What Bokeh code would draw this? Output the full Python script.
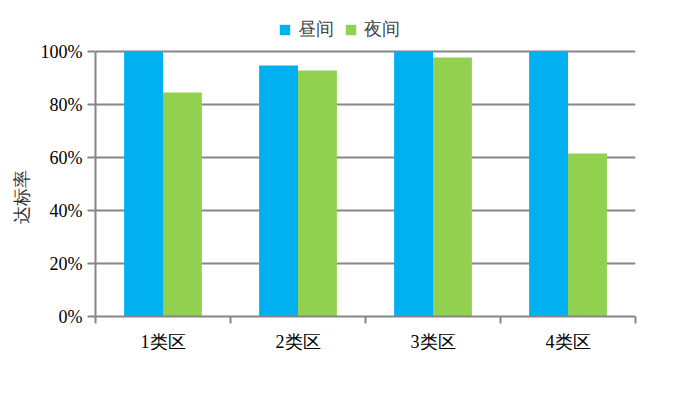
from bokeh.plotting import figure
from bokeh.models import ColumnDataSource, FixedTicker, NumeralTickFormatter, Range1d, Legend, LegendItem, Title
from bokeh.transform import dodge
from bokeh.embed import file_html
from bokeh.resources import INLINE

categories = ["1类区", "2类区", "3类区", "4类区"]
day = [1.00, 0.947, 1.00, 1.00]
night = [0.845, 0.928, 0.977, 0.615]
series_names = ["昼间", "夜间"]
y_ticks = [0, 0.2, 0.4, 0.6, 0.8, 1.0]
y_label = "达标率"

FONT = "Liberation Serif"
GRAY = "#868686"
FS = "18px"

centers = [i + 0.5 for i in range(len(categories))]
src = ColumnDataSource(dict(x=centers, day=day, night=night, cat=categories))

# frame extends above 100% to host the legend; axis/grid are bounded to 0..1
y_top = 1 + 41 / 265
p = figure(width=675, height=385, output_backend="svg", toolbar_location=None,
           x_range=Range1d(0, len(categories)), y_range=Range1d(0, y_top),
           min_border_left=95, min_border_right=40, min_border_top=10, min_border_bottom=69)
p.outline_line_color = None
p.background_fill_color = "white"

bw = 0.288
r1 = p.vbar(x=dodge("x", -bw / 2, range=p.x_range), top="day", width=bw, source=src,
            fill_color="#00B0F0", line_color=None)
r2 = p.vbar(x=dodge("x", bw / 2, range=p.x_range), top="night", width=bw, source=src,
            fill_color="#92D050", line_color=None)

# axes
p.xaxis.ticker = FixedTicker(ticks=centers, minor_ticks=list(range(len(categories) + 1)))
p.xaxis.major_label_overrides = {c: lab for c, lab in zip(centers, categories)}
p.xaxis.major_tick_out = 0
p.xaxis.major_tick_in = 0
p.xaxis.minor_tick_out = 7
p.xaxis.minor_tick_in = 0
p.xaxis.minor_tick_line_color = GRAY
p.xaxis.minor_tick_line_width = 2
p.xaxis.axis_line_color = GRAY
p.xaxis.axis_line_width = 2
p.xaxis.major_label_standoff = 8
p.xaxis.major_label_text_font = FONT
p.xaxis.major_label_text_font_size = FS
p.xaxis.major_label_text_color = "black"

p.yaxis.bounds = (0, 1)
p.yaxis.ticker = FixedTicker(ticks=y_ticks)
p.yaxis.formatter = NumeralTickFormatter(format="0%")
p.yaxis.minor_tick_line_color = None
p.yaxis.major_tick_out = 8
p.yaxis.major_tick_in = 0
p.yaxis.major_tick_line_color = GRAY
p.yaxis.major_tick_line_width = 2
p.yaxis.axis_line_color = GRAY
p.yaxis.axis_line_width = 2
p.yaxis.major_label_text_font = FONT
p.yaxis.major_label_text_font_size = FS
p.yaxis.major_label_text_color = "black"
p.yaxis.major_label_standoff = 5

# y-axis title as a left-side Title, placed along the 0..100% span
ytitle = Title(text=y_label, align="left", offset=93, standoff=12,
               text_font=FONT, text_font_size=FS, text_font_style="normal",
               text_color="#333333")
p.add_layout(ytitle, "left")

p.xgrid.grid_line_color = None
p.ygrid.ticker = FixedTicker(ticks=y_ticks)
p.ygrid.bounds = (0, 1)
p.ygrid.grid_line_color = GRAY
p.ygrid.grid_line_width = 2

legend = Legend(items=[LegendItem(label=series_names[0], renderers=[r1]),
                       LegendItem(label=series_names[1], renderers=[r2])],
                orientation="horizontal", location=(183, 275),
                label_text_font=FONT, label_text_font_size=FS,
                glyph_width=13, glyph_height=13, label_standoff=7, spacing=10,
                padding=0, margin=0, border_line_color=None, background_fill_alpha=0)
p.add_layout(legend, "center")

open("out.html", "w").write(file_html(p, INLINE))
